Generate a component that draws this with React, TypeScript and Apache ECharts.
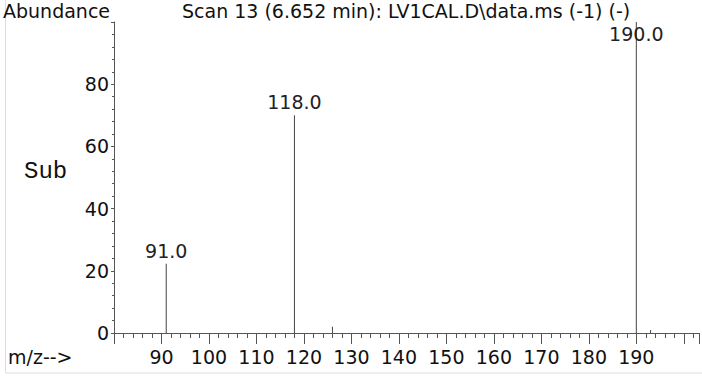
import React, { useEffect, useRef } from "react";
import * as echarts from "echarts";

const mzValues = [91, 118, 126, 190, 193];
const abundance = [22.3, 70, 2, 100, 1];
const labeledPeaks = [91, 118, 190];
const yTicks = [0, 20, 40, 60, 80];
const xTicks = [90, 100, 110, 120, 130, 140, 150, 160, 170, 180, 190];
const titleText = "Scan 13 (6.652 min): LV1CAL.D\\data.ms (-1) (-)";

const FONT = "DejaVu Sans";

export default function App() {
  const ref = useRef<HTMLDivElement>(null);
  useEffect(() => {
    if (!ref.current) return;
    const chart = echarts.init(ref.current, null, { renderer: "svg" });
    const data = mzValues.map((m, i) => {
      const show = labeledPeaks.includes(m);
      return {
        value: [m, abundance[i]],
        label: {
          show,
          position: "top",
          distance: m === 190 ? -21.6 : 3.5,
          formatter: m.toFixed(1),
          fontSize: 19,
          fontFamily: FONT,
          color: "#222",
        },
      };
    });
    chart.setOption({
      animation: false,
      grid: { left: 114, right: 0, top: 22, bottom: 48, containLabel: false },
      xAxis: {
        type: "value",
        min: 80,
        max: 203.2,
        interval: 10,
        splitLine: { show: false },
        axisLine: { show: true, onZero: false, lineStyle: { color: "#555", width: 1 } },
        axisTick: { show: true, length: 11, lineStyle: { color: "#555" } },
        minorTick: { show: true, splitNumber: 5, length: 5, lineStyle: { color: "#555" } },
        axisLabel: {
          fontSize: 19,
          fontFamily: FONT,
          color: "#111",
          margin: 14,
          formatter: (v: number) => (xTicks.includes(v) ? String(v) : ""),
        },
      },
      yAxis: {
        type: "value",
        min: 0,
        max: 100,
        interval: 20,
        splitLine: { show: false },
        axisLine: { show: true, lineStyle: { color: "#555", width: 1 } },
        axisTick: { show: true, length: 3, lineStyle: { color: "#555" } },
        minorTick: { show: true, splitNumber: 5, length: 2, lineStyle: { color: "#555" } },
        axisLabel: {
          fontSize: 19,
          fontFamily: FONT,
          color: "#111",
          margin: 5,
          formatter: (v: number) => (yTicks.includes(v) ? String(v) : ""),
        },
      },
      series: [
        {
          type: "bar",
          barWidth: 1,
          data,
          itemStyle: { color: "#444" },
          silent: true,
        },
      ],
      graphic: [
        {
          type: "rect",
          shape: { x: 5.5, y: -10, width: 720, height: 383 },
          style: { fill: "none", stroke: "#ddd", lineWidth: 1 },
          silent: true,
        },
        {
          type: "text",
          x: 3,
          y: 1,
          style: { text: "Abundance", fontSize: 19, fontFamily: FONT, fill: "#111" },
        },
        {
          type: "text",
          x: 182,
          y: 1,
          style: { text: titleText, fontSize: 19, fontFamily: FONT, fill: "#111" },
        },
        {
          type: "text",
          x: 24,
          y: 159,
          style: { text: "Sub", fontSize: 24, fontFamily: "Liberation Mono", fill: "#111" },
        },
        {
          type: "text",
          x: 8,
          y: 347,
          style: { text: "m/z-->", fontSize: 19, fontFamily: FONT, fill: "#111" },
        },
      ],
    });
    return () => chart.dispose();
  }, []);
  return <div ref={ref} style={{ position: "absolute", left: 0, top: 0, width: 702, height: 381 }} />;
}
